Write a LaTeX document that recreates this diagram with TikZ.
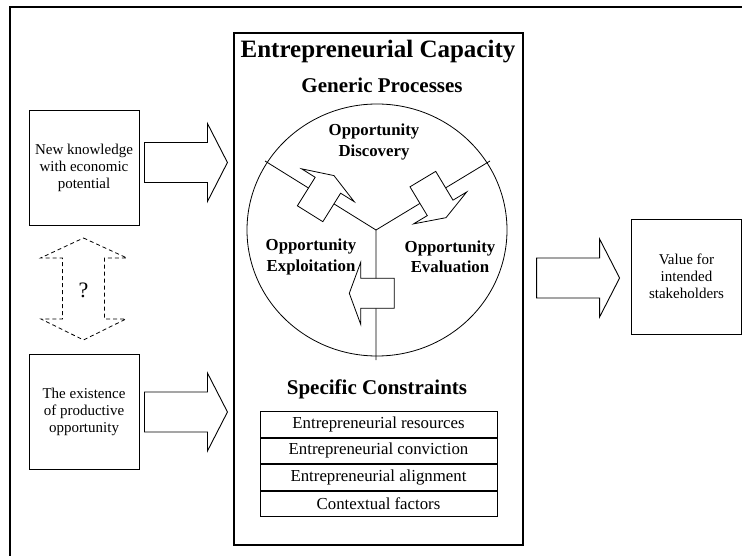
\documentclass[tikz,border=0pt]{standalone}
\usepackage{fontspec}
\setmainfont{Liberation Serif}
\usetikzlibrary{calc,shapes.geometric}
\newcommand\fsz[2]{\fontsize{#1}{#2}\selectfont}
\begin{document}
\begin{tikzpicture}[x=1pt,y=-1pt,
  every node/.style={inner sep=0pt},
  txtbox/.style={draw, line width=0.9pt, minimum width=110pt, minimum height=115pt, align=center, font=\fsz{15}{17}},
  conrow/.style={draw, line width=0.9pt, minimum width=237pt, minimum height=25.6pt, font=\fsz{16.8}{19}},
  plabel/.style={align=center, font=\bfseries\fsz{16.8}{20.5}},
  heading/.style={font=\bfseries\fsz{21}{24}},
  thinline/.style={line width=0.8pt},
  blockarrow/.pic={\draw[line width=0.9pt, fill=white] (0,-20) -- (63,-20) -- (63,-39) -- (83,0) -- (63,39) -- (63,20) -- (0,20) -- cycle;},
  smallarrow/.pic={\draw[line width=0.8pt, fill=white] (-16.8,-15) -- (16.8,-15) -- (16.8,-31) -- (28.2,0) -- (16.8,31) -- (16.8,15) -- (-16.8,15) -- cycle;}
]
\useasboundingbox (0,0) rectangle (742,556);
% outer frame
\draw[line width=1.2pt] (742,7) -- (10,7) -- (10,556);
% central box
\node[draw, line width=1.2pt, minimum width=289pt, minimum height=512pt] (cap) at (378.5,289) {};
\node[font=\bfseries\fsz{25}{28}] (title) at (378,52) {Entrepreneurial Capacity};
\node[heading] (gen) at (382,85) {Generic Processes};
% circle of processes
\node[draw, ellipse, thinline, minimum width=260pt, minimum height=252pt] (gp) at (377,230) {};
\coordinate (j) at (376,230);
\coordinate (e1) at (265,161);
\coordinate (e2) at (490,161);
\coordinate (e3) at (376,360);
\draw[thinline] (e1) -- (j) -- (e2) (j) -- (e3);
\pic[rotate=58] at (319,199.5) {smallarrow};
\pic[rotate=-59] at (431.5,193.5) {smallarrow};
\pic[rotate=180] at (377.5,293.3) {smallarrow};
\node[plabel] (disc) at (374,142) {Opportunity\\Discovery};
\node[plabel] (expl) at (311,257) {Opportunity\\Exploitation};
\node[plabel] (eval) at (450,257) {Opportunity\\Evaluation};
% constraints
\node[heading] (spec) at (377,389) {Specific Constraints};
\node[conrow, anchor=north] (r1) at (378.5,411) {Entrepreneurial resources};
\node[conrow, anchor=north] (r2) at (r1.south) {Entrepreneurial conviction};
\node[conrow, anchor=north] (r3) at (r2.south) {Entrepreneurial alignment};
\node[conrow, anchor=north] (r4) at (r3.south) {Contextual factors};
% side boxes
\node[txtbox] (know) at (84,167.5) {New knowledge\\with economic\\potential};
\node[txtbox] (opp) at (84,411.5) {The existence\\of productive\\opportunity};
\node[txtbox] (val) at (686.5,276.5) {Value for\\intended\\stakeholders};
% block arrows
\pic at ($(know.east)+(5,-5)$) {blockarrow};
\pic at ($(opp.east)+(5,0.5)$) {blockarrow};
\pic at ($(cap.east |- val.east)+(13,1.5)$) {blockarrow};
% dashed double arrow
\node[font=\fsz{22}{24}] (q) at (83.5,290) {?};
\begin{scope}[shift={(q)}]
\draw[line width=0.8pt, dash pattern=on 4pt off 3pt] (0,-52) -- (43.5,-32) -- (21,-32) -- (21,29) -- (42.5,29) -- (0,50) -- (-42.5,29) -- (-21,29) -- (-21,-32) -- (-43,-32) -- cycle;
\end{scope}
\end{tikzpicture}
\end{document}
